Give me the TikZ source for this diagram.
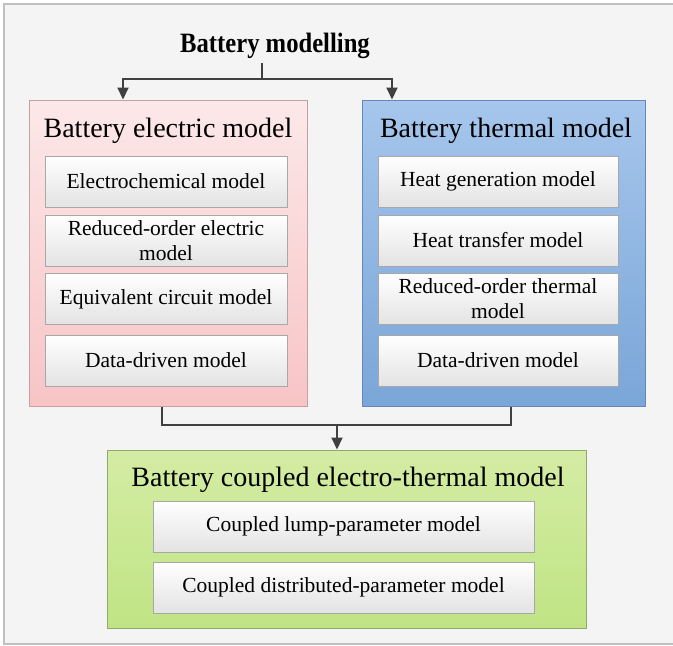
\documentclass[tikz,border=0pt]{standalone}
\usepackage{fontspec}
\setmainfont{Liberation Serif}
\usepackage{tikz}
\usetikzlibrary{positioning,arrows.meta,calc,shadings}
\usepackage{xcolor}
\definecolor{framegray}{RGB}{192,192,192}
\definecolor{bggray}{RGB}{244,244,244}
\definecolor{linegray}{RGB}{64,64,64}
\definecolor{electop}{RGB}{252,232,232}
\definecolor{elecbot}{RGB}{248,196,198}
\definecolor{elecedge}{RGB}{196,160,160}
\definecolor{thermtop}{RGB}{166,198,236}
\definecolor{thermbot}{RGB}{122,166,216}
\definecolor{thermedge}{RGB}{100,136,186}
\definecolor{couptop}{RGB}{212,236,164}
\definecolor{coupbot}{RGB}{192,228,132}
\definecolor{coupedge}{RGB}{140,172,110}
\definecolor{subedge}{RGB}{168,168,168}
\newcommand{\hfont}{\fontsize{28}{32}\selectfont}
\newcommand{\sfont}{\fontsize{21.5}{25}\selectfont}

\begin{document}
\begin{tikzpicture}[x=1pt,y=-1pt,
      group/.style={rectangle,draw,line width=1pt,inner sep=0pt},
      elecgrp/.style={group,draw=elecedge,top color=electop,bottom color=elecbot,
        minimum width=278pt,minimum height=306pt},
      thermgrp/.style={group,draw=thermedge,top color=thermtop,bottom color=thermbot,
        minimum width=283pt,minimum height=306pt},
      coupgrp/.style={group,draw=coupedge,top color=couptop,bottom color=coupbot,
        minimum width=479pt,minimum height=178pt},
      head/.style={anchor=base,font=\hfont,inner sep=0pt},
      sub/.style={rectangle,draw=subedge,line width=1pt,top color=white,bottom color=gray!22,
        minimum height=51pt,align=center,font=\sfont,inner sep=0pt},
      line/.style={draw=linegray,line width=2pt},
      arr/.style={line,-{Triangle[length=12pt,width=11pt]}},
    ]
      \useasboundingbox (0,0) rectangle (673,646);
      % frame and background
      \fill[white] (0,0) rectangle (673,646);
      \draw[framegray,fill=bggray,line width=2pt] (4,4) rectangle (690,644);

      % title
      \node[font=\fontsize{28}{32}\selectfont\bfseries,anchor=base,inner sep=5pt] (title)
        at (275,52) {\scalebox{0.88}[1]{Battery modelling}};

      % the three groups
      \node[elecgrp] (elec) at (168,253) {};
      \node[thermgrp] (therm) at (503.5,253) {};
      \node[coupgrp] (coup) at (346.5,539) {};

      \node[head] (elechead) at (168,137) {Battery electric model};
      \node[head] (thermhead) at (506,137) {Battery thermal model};
      \node[head] (couphead) at (348,486) {Battery coupled electro-thermal model};

      % sub-models
      \foreach \n/\y/\txt in {1/181.5/{Electrochemical model},
                              2/240.5/{Reduced-order electric\\model},
                              3/299/{Equivalent circuit model},
                              4/360.5/{Data-driven model}}
        \node[sub,minimum width=242pt] (e\n) at (166,\y) {\txt};
      \foreach \n/\y/\txt in {1/181.5/{Heat generation model},
                              2/240.5/{Heat transfer model},
                              3/299/{Reduced-order thermal\\model},
                              4/360.5/{Data-driven model}}
        \node[sub,minimum width=240pt] (t\n) at (498,\y) {\txt};
      \node[sub,minimum width=381pt] (c1) at (343.5,526.5) {Coupled lump-parameter model};
      \node[sub,minimum width=381pt] (c2) at (343.5,587.5) {Coupled distributed-parameter model};

      % connectors
      \draw[line] ([xshift=-13pt]title.south) -- ++(0,16) coordinate (split);
      \draw[arr] (split) -| ([xshift=-45pt]elec.north);
      \draw[arr] (split) -| ([xshift=-111.5pt]therm.north);
      \draw[line] ([xshift=-6pt]elec.south) -- ++(0,18) coordinate (merge) -| ([xshift=7.5pt]therm.south);
      \draw[arr] ([xshift=-9.5pt]coup.north |- merge) -- ([xshift=-9.5pt]coup.north);
    \end{tikzpicture}
\end{document}
